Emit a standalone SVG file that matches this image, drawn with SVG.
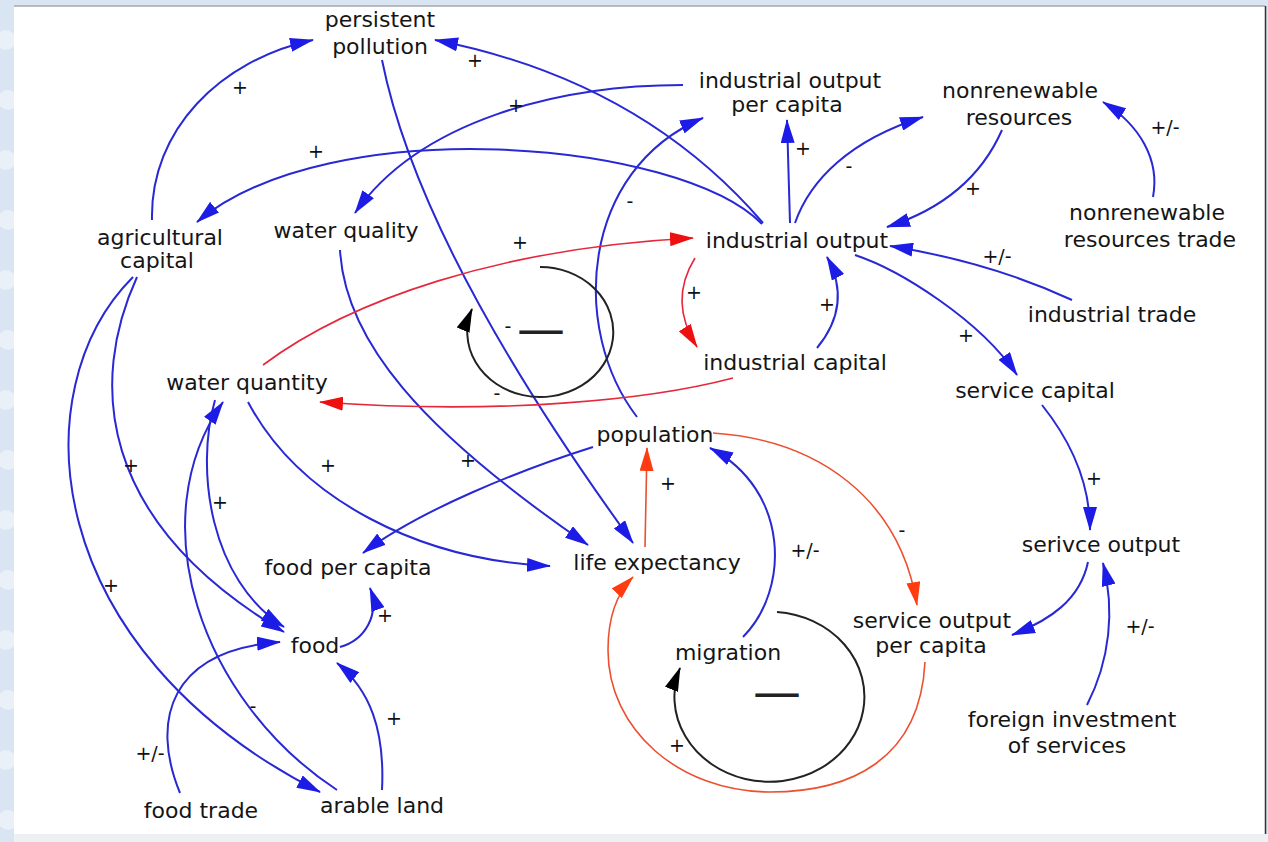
<svg xmlns="http://www.w3.org/2000/svg" width="1268" height="842" viewBox="0 0 1268 842">
<style>
.n{font-family:"DejaVu Sans","Liberation Sans",sans-serif;font-size:22px;fill:#151515;text-anchor:middle}
.l{font-family:"DejaVu Sans","Liberation Sans",sans-serif;font-size:19px;fill:#111;text-anchor:middle}
.d{font-family:"DejaVu Sans","Liberation Sans",sans-serif;font-size:48px;fill:#222;text-anchor:middle}
.b{fill:none;stroke:#2828d4;stroke-width:2;marker-end:url(#ab)}
.r{fill:none;stroke:#e6283c;stroke-width:1.6;marker-end:url(#ar)}
.o{fill:none;stroke:#ec5030;stroke-width:1.6;marker-end:url(#ao)}
.k{fill:none;stroke:#222;stroke-width:2;marker-end:url(#ak)}
</style>
<defs>
<marker id="ab" viewBox="0 0 24 14" refX="23" refY="7" markerWidth="24" markerHeight="14" markerUnits="userSpaceOnUse" orient="auto"><path d="M0,0 L24,7 L0,14 z" fill="#1c1ce6"/></marker>
<marker id="ar" viewBox="0 0 24 14" refX="23" refY="7" markerWidth="24" markerHeight="14" markerUnits="userSpaceOnUse" orient="auto"><path d="M0,0 L24,7 L0,14 z" fill="#ee1010"/></marker>
<marker id="ao" viewBox="0 0 24 14" refX="23" refY="7" markerWidth="24" markerHeight="14" markerUnits="userSpaceOnUse" orient="auto"><path d="M0,0 L24,7 L0,14 z" fill="#ff3c10"/></marker>
<marker id="ak" viewBox="0 0 24 14" refX="23" refY="7" markerWidth="24" markerHeight="14" markerUnits="userSpaceOnUse" orient="auto"><path d="M0,0 L24,7 L0,14 z" fill="#000"/></marker>
</defs>
<rect x="0" y="0" width="1268" height="842" fill="#d9e5f2"/>
<g fill="#e9f0f8">
<circle cx="6" cy="40" r="10"/><circle cx="8" cy="100" r="10"/><circle cx="6" cy="160" r="10"/><circle cx="8" cy="220" r="10"/><circle cx="6" cy="280" r="10"/><circle cx="8" cy="340" r="10"/><circle cx="6" cy="400" r="10"/><circle cx="8" cy="460" r="10"/><circle cx="6" cy="520" r="10"/><circle cx="8" cy="580" r="10"/><circle cx="6" cy="640" r="10"/><circle cx="8" cy="700" r="10"/><circle cx="6" cy="760" r="10"/><circle cx="8" cy="820" r="10"/>
</g>
<rect x="14" y="6" width="1251" height="828" fill="#ffffff"/>
<line x1="14" y1="6" x2="1265" y2="6" stroke="#a8a8a8" stroke-width="1.5"/>
<line x1="1265.5" y1="6" x2="1265.5" y2="834" stroke="#333" stroke-width="1.5"/>
<rect x="14" y="834" width="1254" height="8" fill="#eef1f4"/>

<g id="connectors">
<path class="b" d="M152,220 C150,130 220,60 313,40"/>
<path class="b" d="M763,223 Q640,80 435,40"/>
<path class="b" d="M762,224 C680,140 330,110 197,222"/>
<path class="b" d="M683,85 C560,85 420,120 355,213"/>
<path class="b" d="M637,417 C570,330 580,170 703,118"/>
<path class="b" d="M790,223 L787,120"/>
<path class="b" d="M795,223 C810,180 850,140 923,117"/>
<path class="b" d="M1002,130 C980,180 940,210 887,227"/>
<path class="b" d="M1153,197 C1160,160 1140,125 1103,102"/>
<path class="b" d="M1072,300 Q990,262 890,246"/>
<path class="b" d="M855,255 C900,270 980,320 1017,375"/>
<path class="b" d="M1042,405 C1070,440 1090,480 1090,530"/>
<path class="b" d="M1088,562 C1080,600 1050,620 1012,635"/>
<path class="b" d="M1087,705 C1110,660 1115,610 1103,563"/>
<path class="b" d="M817,348 C840,320 845,290 827,257"/>
<path class="b" d="M382,60 Q420,250 633,543"/>
<path class="b" d="M340,250 C345,340 420,430 588,545"/>
<path class="b" d="M248,402 C300,500 420,560 550,566"/>
<path class="b" d="M593,447 C520,470 420,510 363,553"/>
<path class="b" d="M743,637 C790,590 790,490 710,448"/>
<path class="b" d="M340,647 C365,640 380,615 370,588"/>
<path class="b" d="M382,790 C385,730 370,690 337,663"/>
<path class="b" d="M180,793 C150,720 170,650 280,642"/>
<path class="b" d="M133,277 C20,390 40,650 320,792"/>
<path class="b" d="M137,277 C90,380 95,520 284,632"/>
<path class="b" d="M215,400 C195,470 210,580 284,627"/>
<path class="b" d="M337,790 C200,700 140,520 223,402"/>
<path class="r" d="M695,258 C675,290 680,320 697,347"/>
<path class="r" d="M263,365 C350,300 500,248 693,238"/>
<path class="r" d="M733,378 C650,400 500,415 320,402"/>
<path class="o" d="M645,547 L647,448"/>
<path class="o" d="M713,433 C820,440 900,500 917,605"/>
<path class="o" d="M925,662 C920,760 850,792 770,792 C680,792 608,730 608,650 C608,615 618,592 633,577"/>
<path class="k" d="M540,267 A73,65 0 1 1 472,309"/>
<path class="k" d="M777,612 A95,85 0 1 1 680,668"/>
</g>

<g id="labels">
<text class="l" x="240" y="94">+</text>
<text class="l" x="475" y="67">+</text>
<text class="l" x="516" y="112">+</text>
<text class="l" x="316" y="158">+</text>
<text class="l" x="630" y="208">-</text>
<text class="l" x="803" y="155">+</text>
<text class="l" x="849" y="173">-</text>
<text class="l" x="973" y="195">+</text>
<text class="l" x="1165" y="134">+/-</text>
<text class="l" x="520" y="249">+</text>
<text class="l" x="997" y="263">+/-</text>
<text class="l" x="694" y="299">+</text>
<text class="l" x="827" y="311">+</text>
<text class="l" x="508" y="333">-</text>
<text class="d" x="541" y="346">—</text>
<text class="l" x="497" y="400">-</text>
<text class="l" x="966" y="342">+</text>
<text class="l" x="1094" y="485">+</text>
<text class="l" x="131" y="472">+</text>
<text class="l" x="220" y="509">+</text>
<text class="l" x="328" y="472">+</text>
<text class="l" x="468" y="467">+</text>
<text class="l" x="668" y="490">+</text>
<text class="l" x="805" y="557">+/-</text>
<text class="l" x="902" y="537">-</text>
<text class="l" x="111" y="592">+</text>
<text class="l" x="385" y="622">+</text>
<text class="l" x="1140" y="633">+/-</text>
<text class="l" x="253" y="713">-</text>
<text class="l" x="394" y="725">+</text>
<text class="l" x="150" y="760">+/-</text>
<text class="l" x="677" y="752">+</text>
<text class="d" x="777" y="709">—</text>
</g>

<g id="persistent-pollution"><text class="n" x="380" y="27">persistent</text><text class="n" x="380" y="54">pollution</text></g>
<g id="industrial-output-per-capita"><text class="n" x="790" y="88">industrial output</text><text class="n" x="787" y="112">per capita</text></g>
<g id="nonrenewable-resources"><text class="n" x="1020" y="98">nonrenewable</text><text class="n" x="1019" y="125">resources</text></g>
<g id="nonrenewable-resources-trade"><text class="n" x="1147" y="220">nonrenewable</text><text class="n" x="1150" y="247">resources trade</text></g>
<g id="agricultural-capital"><text class="n" x="160" y="245">agricultural</text><text class="n" x="157" y="268">capital</text></g>
<g id="water-quality"><text class="n" x="346" y="238">water quality</text></g>
<g id="industrial-output"><text class="n" x="797" y="248">industrial output</text></g>
<g id="industrial-trade"><text class="n" x="1112" y="322">industrial trade</text></g>
<g id="industrial-capital"><text class="n" x="795" y="370">industrial capital</text></g>
<g id="water-quantity"><text class="n" x="247" y="390">water quantity</text></g>
<g id="service-capital"><text class="n" x="1035" y="398">service capital</text></g>
<g id="population"><text class="n" x="655" y="442">population</text></g>
<g id="serivce-output"><text class="n" x="1101" y="552">serivce output</text></g>
<g id="food-per-capita"><text class="n" x="348" y="575">food per capita</text></g>
<g id="life-expectancy"><text class="n" x="657" y="570">life expectancy</text></g>
<g id="service-output-per-capita"><text class="n" x="932" y="628">service output</text><text class="n" x="931" y="653">per capita</text></g>
<g id="food"><text class="n" x="315" y="653">food</text></g>
<g id="migration"><text class="n" x="728" y="660">migration</text></g>
<g id="foreign-investment-of-services"><text class="n" x="1072" y="727">foreign investment</text><text class="n" x="1067" y="753">of services</text></g>
<g id="food-trade"><text class="n" x="201" y="818">food trade</text></g>
<g id="arable-land"><text class="n" x="382" y="813">arable land</text></g>
</svg>
